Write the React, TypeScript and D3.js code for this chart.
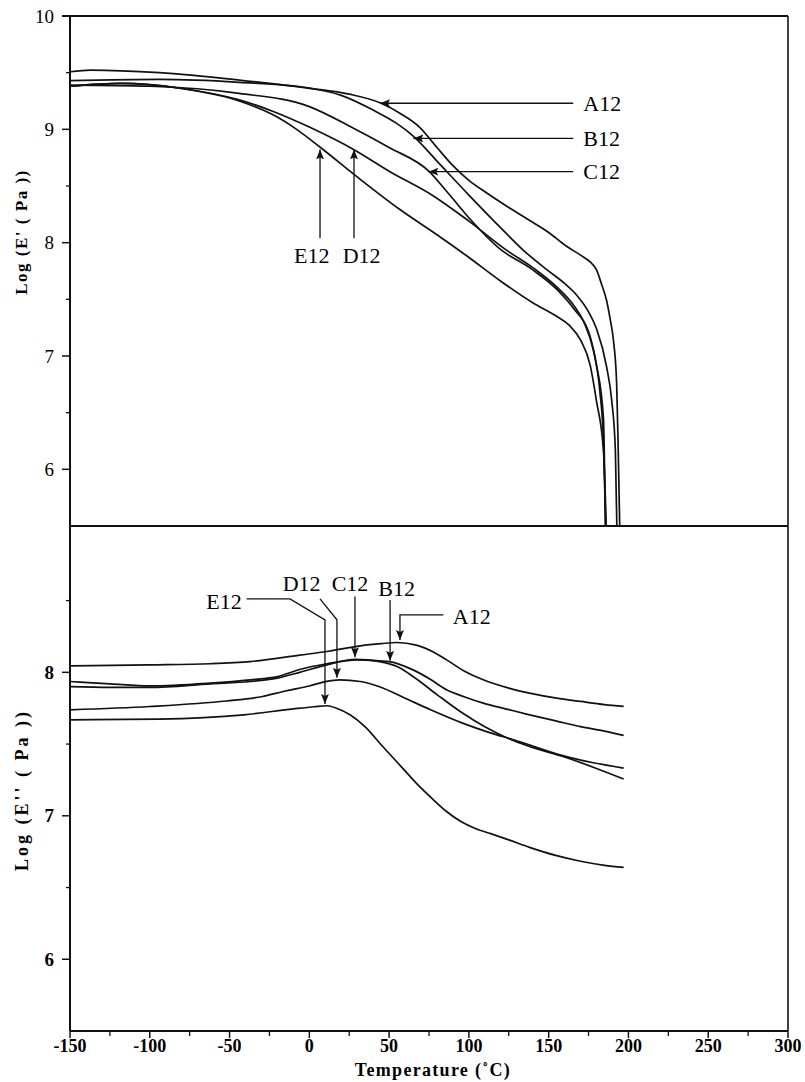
import React from "react";
import * as d3 from "d3";

// ---------- data (temperature °C, log modulus) ----------
const storageA12: [number, number][] = [[-150, 9.508], [-137, 9.523], [-94, 9.5], [-44, 9.435], [0, 9.362], [25, 9.31], [45, 9.23], [57, 9.14], [69, 9.02], [80, 8.84], [90, 8.68], [100, 8.55], [111, 8.44], [125, 8.31], [140, 8.18], [150, 8.09], [161, 7.97], [170, 7.89], [176, 7.83], [180, 7.76], [183, 7.64], [186.3, 7.49], [188.5, 7.33], [190.5, 7.15], [192.6, 6.76], [193.6, 6.17], [194.6, 5.45]];
const storageB12: [number, number][] = [[-150, 9.43], [-94, 9.44], [-44, 9.415], [0, 9.365], [20, 9.3], [40, 9.17], [55, 9.05], [66, 8.93], [80, 8.72], [100, 8.42], [120, 8.13], [134, 7.935], [149, 7.76], [160, 7.64], [168, 7.53], [175, 7.39], [180, 7.24], [186.3, 6.905], [189.5, 6.61], [191.8, 6.17], [192.8, 5.45]];
const storageC12: [number, number][] = [[-150, 9.39], [-100, 9.38], [-44, 9.318], [0, 9.2], [25, 9.03], [50, 8.84], [75, 8.63], [88, 8.42], [100, 8.22], [119, 7.95], [140, 7.76], [155, 7.59], [165, 7.43], [176, 7.17], [180, 6.92], [184.3, 6.46], [185.6, 5.45]];
const storageD12: [number, number][] = [[-150, 9.38], [-118, 9.405], [-80, 9.36], [-44, 9.26], [-23, 9.16], [0, 9.02], [28, 8.82], [50, 8.63], [78, 8.41], [100, 8.19], [124, 7.93], [140, 7.78], [155, 7.61], [165, 7.46], [172, 7.3], [178, 7.05], [182, 6.7], [184.5, 6.2], [185.8, 5.45]];
const storageE12: [number, number][] = [[-150, 9.38], [-118, 9.405], [-80, 9.36], [-44, 9.25], [-23, 9.13], [-8, 9.0], [7, 8.84], [30, 8.58], [57, 8.29], [80, 8.07], [99, 7.88], [120, 7.66], [140, 7.47], [155, 7.35], [163, 7.27], [170, 7.14], [176, 6.92], [180, 6.6], [184.3, 6.17], [186.2, 5.45]];

const lossA12: [number, number][] = [[-150, 8.045], [-100, 8.052], [-62, 8.06], [-37, 8.075], [-6, 8.12], [11, 8.145], [32, 8.185], [45, 8.2], [55, 8.208], [67, 8.19], [78, 8.14], [86, 8.087], [97, 8.01], [109, 7.948], [125, 7.89], [138, 7.855], [155, 7.82], [170, 7.797], [185, 7.775], [197, 7.762]];
const lossB12: [number, number][] = [[-150, 7.936], [-125, 7.92], [-100, 7.905], [-62, 7.925], [-37, 7.948], [-20, 7.97], [-6, 8.02], [11, 8.06], [30, 8.087], [50, 8.075], [65, 8.017], [76, 7.95], [86, 7.878], [97, 7.83], [109, 7.785], [125, 7.74], [138, 7.704], [155, 7.66], [170, 7.622], [185, 7.59], [197, 7.56]];
const lossC12: [number, number][] = [[-150, 7.9], [-125, 7.895], [-100, 7.895], [-62, 7.92], [-37, 7.936], [-20, 7.96], [-6, 8.0], [11, 8.052], [29, 8.09], [44, 8.075], [55, 8.04], [65, 7.971], [80, 7.845], [96, 7.716], [110, 7.62], [122, 7.553], [138, 7.483], [159, 7.413], [180, 7.33], [197, 7.256]];
const lossD12: [number, number][] = [[-150, 7.739], [-100, 7.762], [-52, 7.8], [-30, 7.83], [-15, 7.87], [0, 7.905], [10, 7.935], [19, 7.948], [32, 7.936], [44, 7.9], [60, 7.82], [76, 7.739], [96, 7.646], [113, 7.58], [128, 7.53], [157, 7.425], [178, 7.37], [197, 7.332]];
const lossE12: [number, number][] = [[-150, 7.669], [-94, 7.674], [-41, 7.704], [-10, 7.745], [3, 7.76], [11, 7.767], [17, 7.75], [25.5, 7.704], [35, 7.62], [46, 7.483], [57, 7.35], [67, 7.228], [77, 7.12], [86, 7.03], [95, 6.96], [104, 6.912], [113, 6.878], [125, 6.832], [138, 6.78], [155, 6.722], [170, 6.683], [185, 6.655], [197, 6.64]];

const storageSeries = [storageA12, storageB12, storageC12, storageD12, storageE12];
const lossSeries = [lossA12, lossB12, lossC12, lossD12, lossE12];

// ticks
const xMajor = [-150, -100, -50, 0, 50, 100, 150, 200, 250, 300];
const xMinor = [-125, -75, -25, 25, 75, 125, 175, 225, 275];
const yTopMajor = [6, 7, 8, 9, 10];
const yTopMinor = [6.5, 7.5, 8.5, 9.5];
const yBotMajor = [6, 7, 8];
const yBotMinor = [6.5, 7.5, 8.5];

// annotations (data coordinates)
const topSideLabels = [
  { label: "A12", tipT: 44.3, tailT: 165.4, v: 9.23, textT: 171.7 },
  { label: "B12", tipT: 65.2, tailT: 165.4, v: 8.92, textT: 171.7 },
  { label: "C12", tipT: 74.6, tailT: 165.4, v: 8.626, textT: 171.7 },
];
const topUpLabels = [
  { label: "E12", t: 6.7, tipV: 8.823, tailV: 8.038, textT: 1.5, textV: 7.89 },
  { label: "D12", t: 28, tipV: 8.823, tailV: 8.038, textT: 32.8, textV: 7.89 },
];
const botLeaders = [
  { label: "E12", path: [[-39.3, 8.512], [-12.1, 8.512], [9.8, 8.366], [9.8, 7.78]], textT: -53.5, textV: 8.493 },
  { label: "D12", path: [[6.7, 8.512], [17.3, 8.366], [17.3, 7.962]], textT: -4.8, textV: 8.622 },
  { label: "C12", path: [[28.6, 8.528], [28.6, 8.105]], textT: 25.5, textV: 8.622 },
  { label: "B12", path: [[50.6, 8.505], [50.6, 8.08]], textT: 54.7, textV: 8.587 },
  { label: "A12", path: [[84, 8.4], [56.8, 8.4], [56.8, 8.225]], textT: 101.8, textV: 8.389 },
];

const W = 805;
const H = 1082;
const X0 = 70, X1 = 788;
const TOP0 = 16, MID = 526, BOT = 1031;
const FONT = "'Liberation Serif', 'Times New Roman', serif";

export default function App() {
  const x = d3.scaleLinear().domain([-150, 300]).range([X0, X1]);
  const yTop = d3.scaleLinear().domain([5.5, 10]).range([MID, TOP0]);
  const yBot = d3.scaleLinear().domain([5.5, 9.02]).range([BOT, MID]);

  const lineTop = d3.line<[number, number]>().x(d => x(d[0])).y(d => yTop(d[1])).curve(d3.curveMonotoneX);
  const lineBot = d3.line<[number, number]>().x(d => x(d[0])).y(d => yBot(d[1])).curve(d3.curveMonotoneX);
  const polyBot = d3.line<number[]>().x(d => x(d[0])).y(d => yBot(d[1]));

  const stroke = "#111";

  return (
    <svg width={W} height={H} viewBox={`0 0 ${W} ${H}`} style={{ position: "absolute", left: 0, top: 0, background: "#fff" }}>
      <defs>
        <clipPath id="clipTop"><rect x={X0} y={TOP0} width={X1 - X0} height={MID - TOP0} /></clipPath>
        <clipPath id="clipBot"><rect x={X0} y={MID} width={X1 - X0} height={BOT - MID} /></clipPath>
        <marker id="arr" markerUnits="userSpaceOnUse" markerWidth={10} markerHeight={8} refX={10} refY={4} orient="auto">
          <path d="M0,0 L10,4 L0,8 L2,4 Z" fill={stroke} />
        </marker>
      </defs>
      <rect x={0} y={0} width={W} height={H} fill="#fff" />

      {/* frames */}
      <line x1={X0} x2={X0} y1={TOP0} y2={BOT} stroke={stroke} strokeWidth={2} />
      <line x1={X1} x2={X1} y1={TOP0} y2={BOT} stroke={stroke} strokeWidth={1.6} />
      <line x1={X0 - 8} x2={X1} y1={TOP0} y2={TOP0} stroke={stroke} strokeWidth={1.8} />
      <line x1={X0} x2={X1} y1={MID} y2={MID} stroke={stroke} strokeWidth={1.8} />
      <line x1={X0} x2={X1} y1={BOT} y2={BOT} stroke={stroke} strokeWidth={2} />

      {/* top y ticks */}
      {yTopMajor.map(v => (
        <g key={"tm" + v}>
          <line x1={X0 - 8} x2={X0} y1={yTop(v)} y2={yTop(v)} stroke={stroke} strokeWidth={1.5} />
          <text x={54} y={yTop(v)} dy="0.35em" textAnchor="end" fontFamily={FONT} fontSize={19}>{v}</text>
        </g>
      ))}
      {yTopMinor.map(v => (
        <line key={"tn" + v} x1={X0 - 4} x2={X0} y1={yTop(v)} y2={yTop(v)} stroke={stroke} strokeWidth={1.3} />
      ))}
      {/* bottom y ticks */}
      {yBotMajor.map(v => (
        <g key={"bm" + v}>
          <line x1={X0 - 8} x2={X0} y1={yBot(v)} y2={yBot(v)} stroke={stroke} strokeWidth={1.5} />
          <text x={54} y={yBot(v)} dy="0.35em" textAnchor="end" fontFamily={FONT} fontSize={19} fontWeight="bold">{v}</text>
        </g>
      ))}
      {yBotMinor.map(v => (
        <line key={"bn" + v} x1={X0 - 4} x2={X0} y1={yBot(v)} y2={yBot(v)} stroke={stroke} strokeWidth={1.3} />
      ))}
      {/* x ticks */}
      {xMajor.map(t => (
        <g key={"xm" + t}>
          <line x1={x(t)} x2={x(t)} y1={BOT} y2={BOT + 7} stroke={stroke} strokeWidth={1.5} />
          <text x={x(t)} y={BOT + 21} textAnchor="middle" fontFamily={FONT} fontSize={18} fontWeight="bold">{t}</text>
        </g>
      ))}
      {xMinor.map(t => (
        <line key={"xn" + t} x1={x(t)} x2={x(t)} y1={BOT} y2={BOT + 5} stroke={stroke} strokeWidth={1.3} />
      ))}

      {/* axis titles */}
      <text x={433} y={1076} textAnchor="middle" fontFamily={FONT} fontSize={18} fontWeight="bold" letterSpacing={1.3}>Temperature (˚C)</text>
      <text transform="translate(27,232) rotate(-90)" textAnchor="middle" fontFamily={FONT} fontSize={17} fontWeight="bold" letterSpacing={1.5}>Log (E' ( Pa ))</text>
      <text transform="translate(28,790) rotate(-90)" textAnchor="middle" fontFamily={FONT} fontSize={18} fontWeight="bold" letterSpacing={3}>Log (E'' ( Pa ))</text>

      {/* curves */}
      <g clipPath="url(#clipTop)">
        {storageSeries.map((s, i) => (
          <path key={"s" + i} d={lineTop(s) || ""} fill="none" stroke={stroke} strokeWidth={1.7} />
        ))}
      </g>
      <g clipPath="url(#clipBot)">
        {lossSeries.map((s, i) => (
          <path key={"l" + i} d={lineBot(s) || ""} fill="none" stroke={stroke} strokeWidth={1.7} />
        ))}
      </g>

      {/* top annotations */}
      {topSideLabels.map(a => (
        <g key={"ta" + a.label}>
          <line x1={x(a.tailT)} x2={x(a.tipT)} y1={yTop(a.v)} y2={yTop(a.v)} stroke={stroke} strokeWidth={1.3} markerEnd="url(#arr)" />
          <text x={x(a.textT)} y={yTop(a.v)} dy="0.35em" fontFamily={FONT} fontSize={22}>{a.label}</text>
        </g>
      ))}
      {topUpLabels.map(a => (
        <g key={"tu" + a.label}>
          <line x1={x(a.t)} x2={x(a.t)} y1={yTop(a.tailV)} y2={yTop(a.tipV)} stroke={stroke} strokeWidth={1.3} markerEnd="url(#arr)" />
          <text x={x(a.textT)} y={yTop(a.textV)} dy="0.35em" textAnchor="middle" fontFamily={FONT} fontSize={22}>{a.label}</text>
        </g>
      ))}
      {/* bottom annotations */}
      {botLeaders.map(a => (
        <g key={"ba" + a.label}>
          <path d={polyBot(a.path) || ""} fill="none" stroke={stroke} strokeWidth={1.3} markerEnd="url(#arr)" />
          <text x={x(a.textT)} y={yBot(a.textV)} dy="0.35em" textAnchor="middle" fontFamily={FONT} fontSize={22}>{a.label}</text>
        </g>
      ))}
    </svg>
  );
}
